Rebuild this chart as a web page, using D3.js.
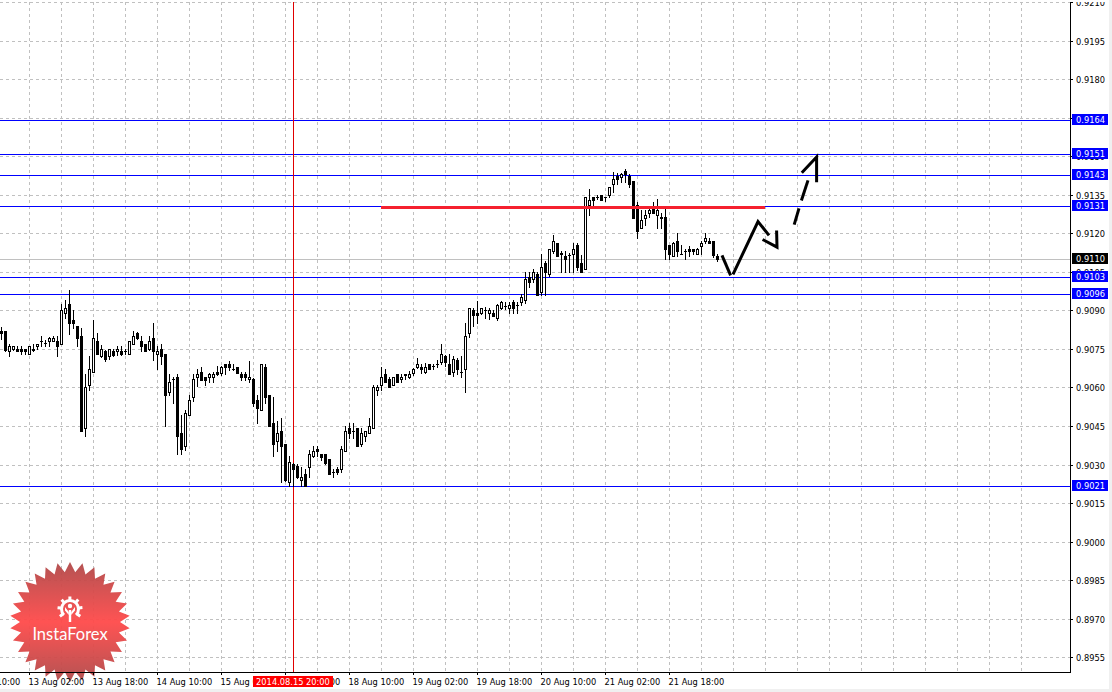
<!DOCTYPE html>
<html><head><meta charset="utf-8">
<script src="https://cdn.jsdelivr.net/npm/d3@7"></script>
<style>
html,body{margin:0;padding:0;background:#fff;overflow:hidden}
svg{display:block}
text{font-family:"DejaVu Sans Condensed","Liberation Sans",Arial,sans-serif;font-size:9.2px}
</style></head><body><svg id="c" width="1112" height="692"></svg>
<script>
// Prices in ten-thousandths (9075.0 = 0.90750); bars are one hour apart
const barOpen=[9082.1,9082.1,9074.1,9075.0,9075.1,9075.0,9075.0,9073.1,9074.7,9076.2,
9078.1,9077.3,9078.1,9078.1,9078.1,9076.9,9089.0,9092.3,9086.3,9084.1,
9080.2,9044.2,9061.0,9066.0,9078.1,9072.3,9074.2,9072.3,9074.2,9074.2,
9074.2,9074.2,9073.1,9076.9,9081.2,9078.1,9076.9,9075.0,9079.3,9073.1,
9075.0,9073.1,9058.1,9063.3,9064.1,9042.3,9037.4,9049.3,9056.3,9064.1,
9066.0,9064.1,9063.9,9063.9,9066.1,9065.8,9069.1,9069.3,9067.3,9068.0,
9065.2,9065.2,9063.2,9063.3,9055.2,9051.2,9068.0,9057.1,9046.2,9039.0,
9043.0,9038.0,9023.1,9030.1,9029.3,9024.0,9026.3,9029.0,9033.2,9036.0,
9034.1,9034.1,9032.1,9027.1,9028.2,9028.2,9035.3,9044.2,9043.2,9044.1,
9037.8,9041.1,9042.1,9044.2,9059.0,9061.0,9065.2,9063.3,9061.0,9065.2,
9063.2,9065.2,9064.1,9065.8,9068.0,9068.0,9065.9,9069.2,9068.3,9069.2,
9070.1,9072.4,9069.3,9065.9,9070.5,9066.1,9067.2,9081.3,9090.3,9089.0,
9089.0,9090.3,9089.0,9089.0,9087.1,9090.9,9091.9,9090.9,9093.3,9092.2,
9093.3,9094.1,9102.9,9102.2,9104.2,9097.1,9108.3,9104.2,9113.2,9116.3,
9112.2,9111.2,9111.7,9111.9,9115.3,9108.3,9106.2,9131.2,9134.3,9134.1,
9135.0,9134.3,9135.0,9139.3,9142.2,9142.1,9144.1,9142.2,9140.2,9131.2,
9122.2,9126.1,9128.0,9129.7,9127.3,9126.2,9126.2,9115.3,9111.3,9117.1,
9112.1,9113.1,9114.0,9114.0,9112.1,9115.1,9117.1,9117.1,9117.1,9111.2];
const barHigh=[9083.6,9082.1,9077.1,9076.3,9076.3,9076.3,9075.1,9076.3,9076.9,9077.1,
9080.2,9078.6,9079.5,9079.9,9080.2,9092.3,9094.0,9098.1,9090.3,9084.1,
9083.2,9065.3,9072.4,9086.4,9081.2,9076.4,9074.5,9075.1,9075.0,9076.3,
9076.2,9075.0,9078.1,9082.1,9081.5,9079.9,9076.9,9079.9,9085.1,9076.3,
9076.9,9073.1,9065.3,9064.1,9065.1,9049.4,9051.4,9057.2,9065.1,9067.2,
9068.0,9064.1,9065.6,9066.0,9068.2,9068.2,9069.3,9070.2,9069.3,9068.0,
9066.0,9066.0,9070.4,9063.7,9056.9,9069.1,9069.3,9057.1,9056.4,9046.9,
9048.1,9038.0,9033.2,9030.6,9030.1,9029.0,9028.2,9035.8,9037.1,9037.1,
9034.2,9034.2,9032.1,9028.2,9028.9,9037.3,9045.1,9046.2,9046.2,9044.1,
9044.1,9043.0,9048.1,9061.1,9061.1,9068.0,9067.2,9064.1,9064.1,9065.2,
9065.4,9065.4,9066.5,9067.6,9071.3,9069.1,9069.6,9069.2,9069.2,9070.5,
9077.1,9072.8,9073.2,9072.4,9071.5,9072.2,9085.2,9091.0,9091.0,9093.5,
9091.0,9091.4,9090.9,9090.3,9092.3,9093.5,9093.3,9093.3,9094.2,9093.3,
9096.2,9105.0,9105.0,9106.2,9105.0,9112.0,9109.4,9114.0,9119.2,9116.3,
9113.2,9113.2,9112.2,9116.4,9116.4,9111.4,9134.3,9137.1,9134.3,9135.0,
9135.0,9134.3,9138.2,9143.9,9143.4,9143.4,9145.2,9143.2,9140.2,9132.3,
9129.1,9129.1,9130.6,9132.2,9133.2,9128.0,9129.9,9115.3,9116.5,9120.2,
9115.3,9114.0,9115.2,9114.0,9114.1,9117.1,9120.2,9118.2,9117.1,9111.9];
const barLow=[9079.0,9074.1,9072.1,9074.7,9074.0,9072.9,9072.9,9072.9,9074.0,9075.0,
9076.2,9076.2,9076.0,9077.9,9072.1,9076.9,9087.1,9081.0,9083.3,9076.0,
9042.9,9041.0,9058.9,9066.0,9073.1,9072.0,9070.2,9071.1,9072.1,9072.7,
9072.7,9073.1,9072.9,9076.9,9078.9,9074.2,9074.0,9074.7,9070.8,9067.2,
9069.0,9044.9,9057.1,9053.8,9034.2,9034.2,9035.5,9049.3,9054.6,9060.7,
9063.0,9061.0,9062.0,9062.1,9065.0,9064.7,9065.1,9066.9,9066.9,9065.6,
9063.0,9063.0,9062.1,9052.9,9046.0,9051.2,9053.8,9044.9,9033.2,9035.1,
9023.2,9023.4,9021.8,9021.5,9024.9,9021.8,9021.8,9025.3,9033.1,9033.2,
9031.7,9030.2,9026.3,9025.0,9026.4,9027.1,9035.1,9040.3,9040.2,9037.1,
9037.1,9039.0,9042.1,9044.2,9057.1,9059.0,9062.0,9060.0,9060.8,9062.1,
9062.2,9063.1,9063.7,9065.0,9067.4,9065.7,9065.8,9067.0,9067.0,9067.9,
9069.1,9068.3,9065.2,9064.4,9065.3,9064.0,9058.2,9079.6,9083.9,9085.2,
9088.4,9087.0,9086.8,9087.8,9086.2,9090.7,9090.7,9089.0,9089.0,9089.0,
9092.0,9092.9,9099.2,9101.0,9095.9,9095.9,9095.9,9103.3,9112.2,9111.1,
9105.0,9105.0,9104.9,9104.9,9105.7,9104.9,9106.2,9127.1,9131.2,9133.2,
9133.0,9132.7,9134.3,9136.2,9139.1,9140.1,9139.8,9138.2,9126.0,9118.2,
9122.2,9123.1,9126.2,9127.8,9122.2,9122.2,9109.9,9109.9,9111.2,9111.2,
9112.0,9110.0,9111.2,9111.8,9112.0,9112.0,9116.1,9116.1,9110.9,9109.2];
const barClose=[9081.1,9074.7,9076.3,9076.0,9074.1,9074.1,9074.1,9076.2,9075.0,9076.8,
9078.0,9077.2,9079.3,9079.3,9076.2,9090.1,9091.0,9085.1,9084.9,9079.2,
9042.9,9060.2,9067.2,9079.2,9073.1,9075.0,9071.1,9075.0,9072.8,9075.0,
9073.1,9074.1,9078.1,9079.9,9079.2,9076.0,9074.2,9078.1,9074.2,9074.2,
9072.1,9057.0,9062.2,9063.2,9041.0,9035.9,9050.1,9055.0,9063.3,9065.1,
9063.0,9063.0,9065.2,9065.2,9065.1,9068.0,9067.8,9067.8,9067.2,9065.8,
9063.9,9063.9,9064.1,9053.8,9051.9,9069.1,9056.2,9044.9,9037.8,9042.3,
9037.1,9023.8,9031.0,9028.2,9025.0,9025.1,9021.8,9034.0,9035.3,9035.1,
9033.1,9030.6,9026.3,9027.0,9027.0,9036.0,9043.0,9042.1,9043.0,9037.1,
9042.3,9042.9,9044.9,9060.2,9060.2,9064.1,9062.0,9060.0,9063.9,9062.1,
9064.1,9065.0,9065.3,9067.2,9069.2,9067.0,9068.0,9067.1,9068.2,9069.1,
9073.1,9070.1,9065.2,9071.1,9067.0,9065.9,9080.1,9091.0,9088.1,9088.1,
9091.0,9090.2,9090.2,9088.0,9092.2,9093.3,9091.8,9092.2,9090.9,9092.0,
9095.3,9102.3,9101.0,9105.0,9095.9,9107.0,9105.0,9114.0,9117.1,9111.2,
9112.0,9110.1,9111.5,9114.0,9106.8,9104.9,9134.3,9133.1,9133.1,9134.0,
9133.1,9134.1,9138.2,9141.3,9141.3,9143.1,9143.1,9139.3,9126.1,9120.8,
9125.2,9127.3,9129.2,9127.9,9129.2,9126.1,9113.8,9111.8,9116.4,9113.1,
9112.0,9113.0,9113.1,9113.1,9114.0,9116.4,9118.3,9116.2,9111.7,9109.9];

const priceTickLabels=["0.9210","0.9195","0.9180","0.9165","0.9150","0.9135","0.9120","0.9105","0.9090","0.9075","0.9060","0.9045","0.9030","0.9015","0.9000","0.8985","0.8970","0.8955"];
const timeTickBars=[-9,7,23,39,55,71,87,103,119,135,151,167];
const timeTickLabels=["12 Aug 10:00","13 Aug 02:00","13 Aug 18:00","14 Aug 10:00","15 Aug 02:00","15 Aug 18:00","18 Aug 10:00","19 Aug 02:00","19 Aug 18:00","20 Aug 10:00","21 Aug 02:00","21 Aug 18:00"];
const gridBarStep=8;
const levelValues=[9164.2,9150.9,9142.8,9130.7,9103.1,9096.5,9021.8];
const levelLabels=["0.9164","0.9151","0.9143","0.9131","0.9103","0.9096","0.9021"];
const lastPrice=9110.1, lastPriceLabel="0.9110";
const crossBar=73, crossLabel="2014.08.15 20:00";
const resistanceBars=[95,191], resistanceValue=9130.0;
const forecastSolid=[[[180.25,9111.4],[182.4,9103.6]],[[183,9104.0],[189.25,9124.6],[192,9119.2]],[[190.4,9117.6],[194,9114.6],[193.9,9121.1]]];
const forecastDashes=[[[198.3,9123.4],[199.5,9129.7]],[[200.1,9132.8],[201.75,9140.6]],[[203.9,9139.9],[203.9,9149.7],[200.2,9143.6]]];

const W=1112,H=692,axisX=1070,axisY=672,chartTop=2;
const svg=d3.select("#c");
const x=d3.scaleLinear().domain([0,179]).range([1,717]);
const y=d3.scaleLinear().domain([8955,9210]).range([657.2,2.1]);
const priceTicks=priceTickLabels.map(s=>Math.round(+s*10000));
const px=v=>Math.round(y(v));

svg.append("rect").attr("width",W).attr("height",H).attr("fill","#fff");
svg.append("rect").attr("y",689).attr("width",W).attr("height",3).attr("fill","#f0f0f0");
svg.append("rect").attr("x",1109).attr("width",3).attr("height",H).attr("fill","#f0f0f0");
svg.append("defs").append("clipPath").attr("id","top").append("rect").attr("x",-5).attr("y",chartTop).attr("width",42).attr("height",690);

const grid=svg.append("g").attr("stroke","#c0c0c0").attr("stroke-dasharray","3 3").attr("fill","none");
grid.selectAll(".h").data(priceTicks).join("line").attr("x1",0).attr("x2",axisX).attr("y1",d=>px(d)+.5).attr("y2",d=>px(d)+.5);
const gridBars=d3.range(timeTickBars[1],260,gridBarStep).filter(b=>x(b)<axisX);
grid.selectAll(".v").data(gridBars).join("line").attr("x1",d=>x(d)+.5).attr("x2",d=>x(d)+.5).attr("y1",chartTop).attr("y2",axisY);

// InstaForex badge
const defs=svg.append("defs");
const lg=defs.append("linearGradient").attr("id","badge").attr("x1",0).attr("y1",0).attr("x2",0).attr("y2",1);
[[0,"#b04a4a"],[.5,"#ff4a4a"],[1,"#b04a4a"]].forEach(s=>lg.append("stop").attr("offset",s[0]).attr("stop-color",s[1]));
const badge=svg.append("g").attr("transform","translate(70,622)");
const teeth=30,star=[];
for(let k=0;k<teeth*2;k++){const r=k%2?50:60,a=k*Math.PI/teeth;star.push([r*Math.sin(a),-r*Math.cos(a)]);}
badge.append("path").attr("d",d3.line().curve(d3.curveLinearClosed)(star)).attr("fill","url(#badge)").attr("opacity",.95);
const gear=badge.append("g").attr("transform","translate(0,-13)").attr("fill","#fff").attr("stroke","none");
gear.append("path").attr("d",d3.arc()({innerRadius:7,outerRadius:10,startAngle:-2.35,endAngle:2.35}));
d3.range(-2.2,2.3,.73).forEach(a=>gear.append("rect").attr("x",-1.5).attr("y",-12.5).attr("width",3).attr("height",3.5).attr("transform",`rotate(${a*180/Math.PI})`));
gear.append("circle").attr("cy",-3).attr("r",2.2);
gear.append("rect").attr("x",-1.2).attr("y",1).attr("width",2.4).attr("height",12);
gear.append("path").attr("d","M-5,-2 L-1.2,3 L-1.2,6 L-5,1.5Z M5,-2 L1.2,3 L1.2,6 L5,1.5Z");
badge.append("text").attr("y",18).attr("text-anchor","middle").attr("fill","#fff").style("font-family","Lato,'Open Sans',sans-serif").style("font-size","16.5px").text("InstaForex");

// horizontal levels
svg.append("line").attr("x1",0).attr("x2",axisX).attr("y1",px(lastPrice)+.5).attr("y2",px(lastPrice)+.5).attr("stroke","#c0c0c0");
svg.append("g").selectAll("line").data(levelValues).join("line").attr("x1",0).attr("x2",axisX)
  .attr("y1",d=>px(d)+.5).attr("y2",d=>px(d)+.5).attr("stroke","#0000ff");
svg.append("line").attr("x1",x(crossBar)+.5).attr("x2",x(crossBar)+.5).attr("y1",chartTop).attr("y2",axisY).attr("stroke","#e00000");

// candles
const idx=d3.range(barOpen.length);
const cg=svg.append("g");
cg.selectAll(".w").data(idx).join("rect").attr("x",i=>x(i)).attr("width",1)
  .attr("y",i=>px(barHigh[i])).attr("height",i=>Math.max(1,px(barLow[i])-px(barHigh[i])+1)).attr("fill","#000");
cg.selectAll(".b").data(idx.filter(i=>barClose[i]<barOpen[i])).join("rect").attr("x",i=>x(i)-1).attr("width",3)
  .attr("y",i=>px(barOpen[i])).attr("height",i=>Math.max(1,px(barClose[i])-px(barOpen[i])+1)).attr("fill","#000");
cg.selectAll(".u").data(idx.filter(i=>barClose[i]>=barOpen[i])).join("rect").attr("x",i=>x(i)-.5).attr("width",2)
  .attr("y",i=>px(barClose[i])+.5).attr("height",i=>Math.max(1,px(barOpen[i])-px(barClose[i]))).attr("fill","#fff").attr("stroke","#000");

// analyst drawing
const line=d3.line().x(d=>x(d[0])).y(d=>y(d[1]));
svg.append("path").attr("d",line(resistanceBars.map(b=>[b,resistanceValue]))).attr("stroke","#f5202e").attr("stroke-width",3).attr("fill","none");
svg.append("g").selectAll("path").data(forecastSolid.concat(forecastDashes)).join("path").attr("d",line)
  .attr("fill","none").attr("stroke","#000").attr("stroke-width",3);

// axes
const ya=d3.axisRight(y).tickValues(priceTicks).tickFormat((d,i)=>priceTickLabels[i]).tickSize(3).tickPadding(3);
const gy=svg.append("g").attr("transform",`translate(${axisX},0)`).attr("clip-path","url(#top)").call(ya);
gy.select(".domain").remove();
gy.selectAll(".tick").attr("transform",d=>`translate(0,${px(d)+.5})`);
gy.selectAll("text").attr("dy",null).attr("x",6).attr("y",3).attr("fill","#000");
gy.selectAll("line").attr("stroke","#000");
const xa=d3.axisBottom(x).tickValues(timeTickBars).tickFormat((d,i)=>timeTickLabels[i]).tickSize(3).tickPadding(3);
const gx=svg.append("g").attr("transform",`translate(0,${axisY})`).call(xa);
gx.select(".domain").remove();
gx.selectAll("text").attr("text-anchor","start").attr("x",-1).attr("y",6).attr("fill","#000");
gx.selectAll("line").attr("stroke","#000");
svg.append("line").attr("x1",axisX+.5).attr("x2",axisX+.5).attr("y1",chartTop).attr("y2",axisY+1).attr("stroke","#000");
svg.append("line").attr("x1",0).attr("x2",axisX+1).attr("y1",axisY+.5).attr("y2",axisY+.5).attr("stroke","#000");

// level and crosshair labels
function tag(val,lab,col){
  const yy=px(val);
  svg.append("rect").attr("x",1072).attr("y",yy-6).attr("width",36).attr("height",11).attr("fill",col);
  svg.append("text").attr("x",1076).attr("y",yy+3).attr("fill","#fff").text(lab);
}
tag(lastPrice,lastPriceLabel,"#000");
levelValues.forEach((v,i)=>tag(v,levelLabels[i],"#0000ff"));
const cx=x(crossBar);
svg.append("rect").attr("x",cx-40).attr("y",676).attr("width",80).attr("height",11).attr("fill","#ff0000");
svg.append("text").attr("x",cx).attr("y",685).attr("text-anchor","middle").attr("fill","#fff").text(crossLabel);
</script></body></html>
